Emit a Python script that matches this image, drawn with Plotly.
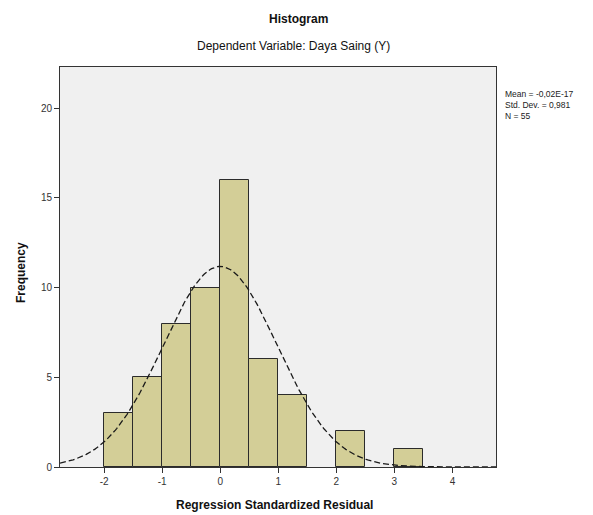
import numpy as np
import plotly.graph_objects as go

bin_left = [-2.0, -1.5, -1.0, -0.5, 0.0, 0.5, 1.0, 1.5, 2.0, 2.5, 3.0]
frequency = [3, 5, 8, 10, 16, 6, 4, 0, 2, 0, 1]
bin_width = 0.5
mean_val = 0.0
std_dev = 0.981
n_obs = 55
x_ticks = [-2, -1, 0, 1, 2, 3, 4]
x_tick_labels = ["-2", "-1", "0", "1", "2", "3", "4"]
y_ticks = [0, 5, 10, 15, 20]
stats_lines = ["Mean = -0,02E-17", "Std. Dev. = 0,981", "N = 55"]

centers = [b + bin_width / 2 for b, f in zip(bin_left, frequency) if f > 0]
counts = [f for f in frequency if f > 0]

x_range = [-2.76, 4.75]
xs = np.linspace(x_range[0], x_range[1], 300)
ys = n_obs * bin_width / (std_dev * np.sqrt(2 * np.pi)) * np.exp(-0.5 * ((xs - mean_val) / std_dev) ** 2)

OFF = 7
W, H = 593 - OFF, 515 - OFF
ML, MR, MT, MB = 59 - OFF, 98, 66 - OFF, 49


def px(x):
    return (x - OFF - ML) / (W - ML - MR)


def py(y):
    return (H - (y - OFF) - MB) / (H - MT - MB)


fig = go.Figure()
fig.add_trace(go.Bar(x=centers, y=counts, width=bin_width,
                     marker=dict(color="#D3CE97", line=dict(color="#2b2b2b", width=1)),
                     showlegend=False))
fig.add_trace(go.Scatter(x=xs, y=ys, mode="lines",
                         line=dict(color="#1a1a1a", width=1.3, dash="6px,3px"),
                         showlegend=False))

fig.update_layout(
    width=W, height=H,
    margin=dict(l=ML, r=MR, t=MT, b=MB),
    paper_bgcolor="white", plot_bgcolor="#F0F0F0",
    font=dict(family="Liberation Sans, Arial", color="#222"),
    bargap=0,
)
fig.update_xaxes(range=x_range, tickvals=x_ticks, ticktext=x_tick_labels,
                 ticks="outside", ticklen=5,
                 tickcolor="#333", showgrid=False, zeroline=False,
                 showline=True, linecolor="#333", linewidth=1, mirror=True,
                 tickfont=dict(size=10, color="#333"))
fig.update_yaxes(range=[0, 22.3], tickvals=y_ticks, ticks="outside", ticklen=5,
                 tickcolor="#333", showgrid=False, zeroline=False,
                 showline=True, linecolor="#333", linewidth=1, mirror=True,
                 tickfont=dict(size=10, color="#333"))

fig.add_annotation(text="<b>Histogram</b>", xref="paper", yref="paper",
                   x=px(297), y=py(18),
                   showarrow=False, font=dict(size=12, color="#111"), xanchor="center", yanchor="middle")
fig.add_annotation(text="Dependent Variable: Daya Saing (Y)", xref="paper", yref="paper",
                   x=px(292), y=py(45),
                   showarrow=False, font=dict(size=12, color="#111"), xanchor="center", yanchor="middle")
fig.add_annotation(text="<b>Regression Standardized Residual</b>", xref="paper", yref="paper",
                   x=px(273), y=py(504),
                   showarrow=False, font=dict(size=12, color="#111"), xanchor="center", yanchor="middle")
fig.add_annotation(text="<b>Frequency</b>", xref="paper", yref="paper",
                   x=px(20), y=py(272),
                   showarrow=False, textangle=-90, font=dict(size=12, color="#111"),
                   xanchor="center", yanchor="middle")
fig.add_annotation(text="<br>".join(stats_lines), xref="paper", yref="paper",
                   x=px(502), y=py(86),
                   showarrow=False, align="left", font=dict(size=8.5, color="#222"),
                   xanchor="left", yanchor="top")

fig.write_html("out.html")
